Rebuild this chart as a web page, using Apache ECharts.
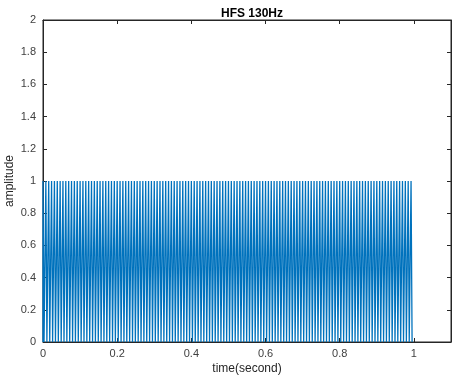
<!DOCTYPE html>
<html>
<head>
<meta charset="utf-8">
<script src="https://cdn.jsdelivr.net/npm/echarts@6/dist/echarts.min.js"></script>
<style>
  html, body { margin: 0; padding: 0; background: #fff; }
  #chart { width: 454px; height: 380px; }
</style>
</head>
<body>
<div id="chart"></div>
<script>
// 130 Hz pulse train, onset of each pulse in seconds
const pulseOnsets = [
  0, 0.0077, 0.0154, 0.0231, 0.0308, 0.0385, 0.0462, 0.0538, 0.0615, 0.0692,
  0.0769, 0.0846, 0.0923, 0.1, 0.1077, 0.1154, 0.1231, 0.1308, 0.1385, 0.1462,
  0.1538, 0.1615, 0.1692, 0.1769, 0.1846, 0.1923, 0.2, 0.2077, 0.2154, 0.2231,
  0.2308, 0.2385, 0.2462, 0.2538, 0.2615, 0.2692, 0.2769, 0.2846, 0.2923, 0.3,
  0.3077, 0.3154, 0.3231, 0.3308, 0.3385, 0.3462, 0.3538, 0.3615, 0.3692, 0.3769,
  0.3846, 0.3923, 0.4, 0.4077, 0.4154, 0.4231, 0.4308, 0.4385, 0.4462, 0.4538,
  0.4615, 0.4692, 0.4769, 0.4846, 0.4923, 0.5, 0.5077, 0.5154, 0.5231, 0.5308,
  0.5385, 0.5462, 0.5538, 0.5615, 0.5692, 0.5769, 0.5846, 0.5923, 0.6, 0.6077,
  0.6154, 0.6231, 0.6308, 0.6385, 0.6462, 0.6538, 0.6615, 0.6692, 0.6769, 0.6846,
  0.6923, 0.7, 0.7077, 0.7154, 0.7231, 0.7308, 0.7385, 0.7462, 0.7538, 0.7615,
  0.7692, 0.7769, 0.7846, 0.7923, 0.8, 0.8077, 0.8154, 0.8231, 0.8308, 0.8385,
  0.8462, 0.8538, 0.8615, 0.8692, 0.8769, 0.8846, 0.8923, 0.9, 0.9077, 0.9154,
  0.9231, 0.9308, 0.9385, 0.9462, 0.9538, 0.9615, 0.9692, 0.9769, 0.9846, 0.9923
];
const pulseAmplitude = 1;
const pulseWidth = 0.0028; // seconds

const xTicks = [0, 0.2, 0.4, 0.6, 0.8, 1];
const yTicks = [0, 0.2, 0.4, 0.6, 0.8, 1, 1.2, 1.4, 1.6, 1.8, 2];

// each pulse: up, hold, down
const signal = [];
pulseOnsets.forEach((t) => {
  signal.push([t, 0], [t, pulseAmplitude], [t + pulseWidth, pulseAmplitude], [t + pulseWidth, 0]);
});

const axisColor = '#262626';
const labelColor = '#404040';
const font = 'Liberation Sans, Arial, sans-serif';

const chart = echarts.init(document.getElementById('chart'), null, { renderer: 'canvas' });

const baseAxisLine = { show: true, onZero: false, lineStyle: { color: axisColor, width: 1 } };
const baseTick = { show: true, inside: true, length: 4, lineStyle: { color: axisColor } };

chart.setOption({
  animation: false,
  backgroundColor: '#fff',
  title: {
    text: 'HFS 130Hz',
    left: 247,
    textAlign: 'center',
    top: 3,
    textStyle: { fontFamily: font, fontSize: 12, fontWeight: 'bold', color: '#000' },
  },
  grid: {
    left: 43, right: 3, top: 20, bottom: 38,
    containLabel: false, outerBoundsMode: 'none',
    show: true, borderColor: axisColor, borderWidth: 1, backgroundColor: 'transparent',
  },
  xAxis: [
    {
      type: 'value',
      min: 0,
      max: 1.1,
      interval: 0.2,
      name: 'time(second)',
      nameLocation: 'middle',
      nameGap: 21,
      nameMoveOverlap: false,
      nameTextStyle: { fontFamily: font, fontSize: 12, color: axisColor },
      axisLine: baseAxisLine,
      axisTick: baseTick,
      splitLine: { show: false },
      axisLabel: {
        color: labelColor,
        fontFamily: font,
        fontSize: 11,
        margin: 6,
        showMaxLabel: false,
        formatter: (v) => (xTicks.includes(+v.toFixed(2)) ? String(+v.toFixed(2)) : ''),
      },
    },
    {
      type: 'value',
      position: 'top',
      gridIndex: 0,
      min: 0,
      max: 1.1,
      interval: 0.2,
      axisLine: baseAxisLine,
      axisTick: baseTick,
      axisLabel: { show: false },
      splitLine: { show: false },
    },
  ],
  yAxis: [
    {
      type: 'value',
      min: 0,
      max: 2,
      interval: 0.2,
      name: 'amplitude',
      nameLocation: 'middle',
      nameGap: 27,
      nameMoveOverlap: false,
      nameTextStyle: { fontFamily: font, fontSize: 12, color: axisColor },
      axisLine: baseAxisLine,
      axisTick: baseTick,
      splitLine: { show: false },
      axisLabel: {
        color: labelColor,
        fontFamily: font,
        fontSize: 11,
        margin: 7,
        formatter: (v) => (yTicks.includes(+v.toFixed(2)) ? String(+v.toFixed(2)) : ''),
      },
    },
    {
      type: 'value',
      position: 'right',
      gridIndex: 0,
      min: 0,
      max: 2,
      interval: 0.2,
      axisLine: baseAxisLine,
      axisTick: baseTick,
      axisLabel: { show: false },
      splitLine: { show: false },
    },
  ],
  series: [
    {
      type: 'line',
      data: signal,
      showSymbol: false,
      symbol: 'none',
      sampling: null,
      lineStyle: { color: '#0072BD', width: 1.3 },
      xAxisIndex: 0,
      yAxisIndex: 0,
    },
  ],
});
</script>
</body>
</html>
